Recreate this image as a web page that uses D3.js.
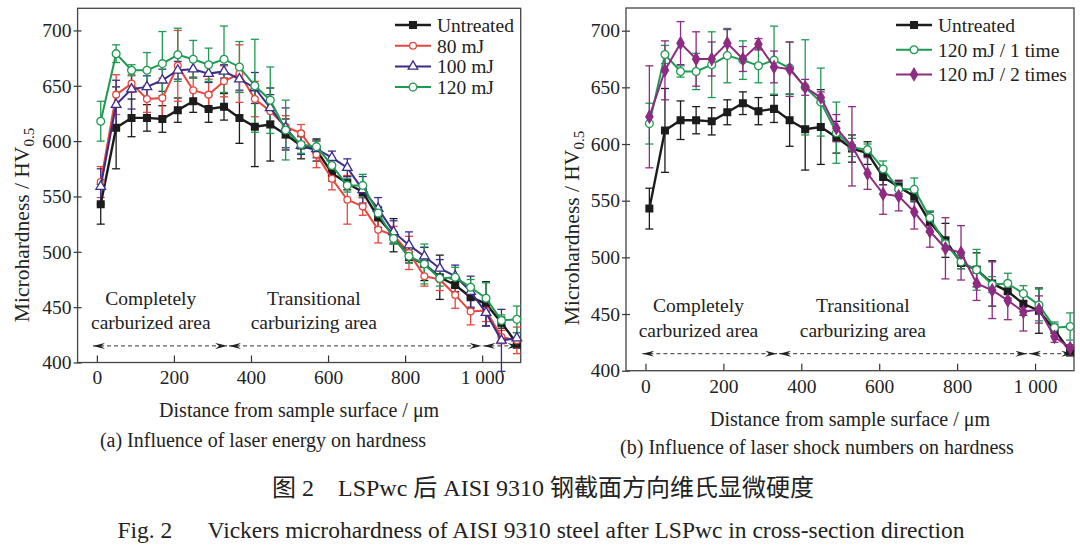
<!DOCTYPE html>
<html>
<head>
<meta charset="utf-8">
<script src="https://cdn.jsdelivr.net/npm/d3@7"></script>
<style>
  body { margin: 0; background: #fff; }
  text { font-family: "Liberation Serif", "Times New Roman", "Noto Sans CJK SC", serif; fill: #222; }
</style>
</head>
<body>
<svg id="fig" width="1080" height="549"></svg>
<script>
// distances from surface (um)
const distance = [10, 50, 90, 130, 170, 210, 250, 290, 330, 370, 410, 450, 490, 530,
                  570, 610, 650, 690, 730, 770, 810, 850, 890, 930, 970, 1010, 1050, 1090];

const untreated    = [543, 612, 621, 621, 620, 628, 636, 629, 631, 621, 613, 615, 606, 596,
                      592, 571, 562, 554, 531, 515, 495, 489, 477, 470, 459, 453, 436, 417];
const untreatedErr = [18, 37, 17, 12, 12, 11, 10, 12, 12, 23, 36, 33, 14, 12,
                      10, 7, 6, 5, 9, 15, 5, 15, 20, 6, 10, 20, 5, 4];

const mj80    = [563, 642, 652, 638, 639, 668, 646, 642, 654, 661, 638, 627, 613, 607,
                 588, 566, 547, 541, 520, 515, 499, 478, 475, 461, 446, 447, 423, 420];
const mj80Err = [14, 18, 8, 12, 18, 32, 12, 14, 14, 26, 16, 12, 10, 8,
                 12, 10, 22, 8, 12, 8, 15, 9, 10, 12, 12, 10, 6, 12];

const mj100    = [559, 633, 647, 649, 655, 664, 665, 661, 663, 656, 648, 630, 612, 596,
                  593, 585, 576, 556, 539, 518, 506, 496, 485, 478, 464, 445, 420, 422];
const mj100Err = [16, 22, 18, 10, 10, 8, 8, 8, 6, 10, 14, 12, 18, 8,
                  8, 6, 8, 12, 10, 10, 12, 8, 8, 10, 14, 12, 28, 5];

const mj120    = [618, 679, 664, 664, 670, 678, 674, 669, 674, 667, 650, 637, 610, 597,
                  595, 578, 560, 560, 535, 512, 496, 489, 476, 477, 468, 458, 438, 439];
const mj120Err = [18, 8, 5, 16, 29, 24, 17, 15, 30, 23, 42, 30, 27, 8,
                  5, 7, 6, 10, 6, 5, 6, 18, 7, 9, 7, 14, 5, 12];

const twice    = [624, 665, 689, 675, 675, 689, 675, 688, 668, 666, 650, 641, 614, 598,
                  574, 556, 554, 540, 523, 508, 504, 477, 471, 462, 452, 454, 430, 420];
const twiceErr = [45, 26, 19, 24, 15, 12, 11, 5, 14, 24, 7, 5, 12, 35,
                  14, 18, 13, 15, 14, 27, 24, 15, 25, 17, 17, 12, 5, 3];

const xTicks = [0, 200, 400, 600, 800, 1000];
const yTicks = [400, 450, 500, 550, 600, 650, 700];

const svg = d3.select("#fig");

// arrowheads
const defs = svg.append("defs");
function head(id, flip) {
  defs.append("marker")
    .attr("id", id)
    .attr("viewBox", "0 0 12 6")
    .attr("refX", flip ? 0 : 12).attr("refY", 3)
    .attr("markerWidth", 12).attr("markerHeight", 6)
    .attr("markerUnits", "userSpaceOnUse")
    .attr("orient", "auto")
    .append("path")
      .attr("d", flip ? "M0,3 L12,0 L8,3 L12,6 Z" : "M12,3 L0,0 L4,3 L0,6 Z")
      .attr("fill", "#222");
}
head("headR", false);
head("headL", true);

function drawPanel(p) {
  const x = d3.scaleLinear().domain([-50, 1100]).range([p.left, p.right]);
  const y = d3.scaleLinear().domain([400, 720]).range([p.bottom, p.top]);
  const g = svg.append("g");

  // y axis
  const ya = g.append("g")
    .attr("transform", `translate(${p.left},0)`)
    .call(d3.axisLeft(y).tickValues(yTicks).tickSize(4).tickPadding(2));
  ya.select(".domain").remove();
  ya.selectAll("line").attr("x1", 4).attr("stroke", "#333").attr("stroke-width", 1.2);
  ya.selectAll("text").style("font-size", "19.5px").attr("fill", "#222")
    .attr("font-family", null);

  // x axis
  const xa = g.append("g")
    .attr("transform", `translate(0,${p.bottom})`)
    .call(d3.axisBottom(x).tickValues(xTicks).tickSize(-7).tickPadding(8)
      .tickFormat(d => d === 1000 ? "1 000" : d));
  xa.select(".domain").remove();
  xa.selectAll("line").attr("stroke", "#333").attr("stroke-width", 1.2);
  xa.selectAll("text").style("font-size", "19.5px").attr("fill", "#222")
    .attr("font-family", null);

  g.append("rect")
    .attr("x", p.left).attr("y", p.top)
    .attr("width", p.right - p.left).attr("height", p.bottom - p.top)
    .attr("fill", "none").attr("stroke", "#444").attr("stroke-width", 1.3);

  // region notes
  const notes = g.append("g").style("font-size", "19.5px").attr("text-anchor", "middle");
  p.notes.forEach(n => {
    notes.append("text").attr("x", x(n.at)).attr("y", y(458)).attr("dy", "0.35em").text(n.l1);
    notes.append("text").attr("x", x(n.at)).attr("y", y(436)).attr("dy", "0.35em").text(n.l2);
  });
  p.arrows.forEach(a => {
    g.append("line")
      .attr("x1", x(a[0])).attr("x2", x(a[1]))
      .attr("y1", y(415)).attr("y2", y(415))
      .attr("stroke", "#333").attr("stroke-width", 1)
      .attr("stroke-dasharray", "4,3")
      .attr("marker-start", "url(#headL)")
      .attr("marker-end", "url(#headR)");
  });

  // series: error bars, lines, markers
  p.series.forEach(s => {
    const eg = g.append("g").attr("stroke", s.color).attr("stroke-width", 1.3);
    distance.forEach((d, i) => {
      const cx = x(d), lo = y(s.values[i] - s.err[i]), hi = y(s.values[i] + s.err[i]);
      eg.append("line").attr("x1", cx).attr("x2", cx).attr("y1", lo).attr("y2", hi);
      eg.append("line").attr("x1", cx - 4).attr("x2", cx + 4).attr("y1", lo).attr("y2", lo);
      eg.append("line").attr("x1", cx - 4).attr("x2", cx + 4).attr("y1", hi).attr("y2", hi);
    });
  });
  p.series.forEach(s => {
    const line = d3.line().x((d, i) => x(distance[i])).y(d => y(d));
    g.append("path").datum(s.values)
      .attr("d", line)
      .attr("fill", "none").attr("stroke", s.color).attr("stroke-width", s.width || 2);
    g.append("g").selectAll("path")
      .data(s.values)
      .join("path")
        .attr("transform", (d, i) => `translate(${x(distance[i])},${y(d)})`)
        .attr("d", d3.symbol().type(s.symbol).size(s.size))
        .attr("fill", s.filled ? s.color : "#fff")
        .attr("stroke", s.color).attr("stroke-width", 1.3);
  });

  // legend
  const lg = g.append("g").style("font-size", "19.5px");
  p.series.forEach((s, i) => {
    const ly = p.legend.y + i * p.legend.dy;
    lg.append("line")
      .attr("x1", p.legend.x).attr("x2", p.legend.x + 36)
      .attr("y1", ly).attr("y2", ly)
      .attr("stroke", s.color).attr("stroke-width", s.width || 2);
    lg.append("path")
      .attr("transform", `translate(${p.legend.x + 18},${ly})`)
      .attr("d", d3.symbol().type(s.symbol).size(s.size))
      .attr("fill", s.filled ? s.color : "#fff")
      .attr("stroke", s.color).attr("stroke-width", 1.3);
    lg.append("text").attr("x", p.legend.x + 42).attr("y", ly).attr("dy", "0.35em").text(s.name);
  });

  // axis titles + caption
  g.append("text")
    .attr("x", (p.left + p.right) / 2).attr("y", p.xTitleY)
    .attr("text-anchor", "middle").style("font-size", "20px")
    .text("Distance from sample surface / μm");
  const yt = g.append("text")
    .attr("transform", `translate(${p.yTitleX},${p.yTitleY}) rotate(-90)`)
    .attr("text-anchor", "middle").style("font-size", "21.5px");
  yt.append("tspan").text("Microhardness / HV");
  yt.append("tspan").attr("dy", 5).style("font-size", "15px").text("0.5");
  g.append("text")
    .attr("x", p.capX).attr("y", p.capY)
    .attr("text-anchor", "middle").style("font-size", "20px")
    .text(p.caption);
}

drawPanel({
  left: 77.6, right: 520.7, top: 8.3, bottom: 362.5,
  series: [
    { name: "Untreated", values: untreated, err: untreatedErr, color: "#1c1c1c", symbol: d3.symbolSquare, size: 45, filled: true, width: 2.4 },
    { name: "80 mJ", values: mj80, err: mj80Err, color: "#e8453c", symbol: d3.symbolCircle, size: 36 },
    { name: "100 mJ", values: mj100, err: mj100Err, color: "#3b2c86", symbol: d3.symbolTriangle, size: 40 },
    { name: "120 mJ", values: mj120, err: mj120Err, color: "#1f9a52", symbol: d3.symbolCircle, size: 48 }
  ],
  legend: { x: 395, y: 25, dy: 20.7 },
  notes: [
    { at: 140, l1: "Completely", l2: "carburized area" },
    { at: 563, l1: "Transitional", l2: "carburizing area" }
  ],
  arrows: [[-10, 338], [343, 998], [1003, 1097]],
  xTitleY: 417, yTitleX: 29, yTitleY: 225,
  caption: "(a) Influence of laser energy on hardness", capX: 263, capY: 447
});

drawPanel({
  left: 626, right: 1074, top: 8, bottom: 370.7,
  series: [
    { name: "Untreated", values: untreated, err: untreatedErr, color: "#1c1c1c", symbol: d3.symbolSquare, size: 45, filled: true, width: 2.4 },
    { name: "120 mJ / 1 time", values: mj120, err: mj120Err, color: "#1f9a52", symbol: d3.symbolCircle, size: 48 },
    { name: "120 mJ / 2 times", values: twice, err: twiceErr, color: "#8e2b82", symbol: d3.symbolDiamond, size: 44, filled: true }
  ],
  legend: { x: 896, y: 25, dy: 24.7 },
  notes: [
    { at: 136, l1: "Completely", l2: "carburized area" },
    { at: 558, l1: "Transitional", l2: "carburizing area" }
  ],
  arrows: [[-8, 338], [343, 980], [985, 1098]],
  xTitleY: 426, yTitleX: 579, yTitleY: 228,
  caption: "(b) Influence of laser shock numbers on hardness", capX: 817, capY: 454
});

// figure captions
svg.append("text")
  .attr("x", 543).attr("y", 496).attr("text-anchor", "middle")
  .style("font-size", "24px")
  .text("图 2\u2003LSPwc 后 AISI 9310 钢截面方向维氏显微硬度");
svg.append("text")
  .attr("x", 541).attr("y", 538).attr("text-anchor", "middle")
  .style("font-size", "23.5px")
  .text("Fig. 2\u2003\u2002Vickers microhardness of AISI 9310 steel after LSPwc in cross-section direction");
</script>
</body>
</html>
